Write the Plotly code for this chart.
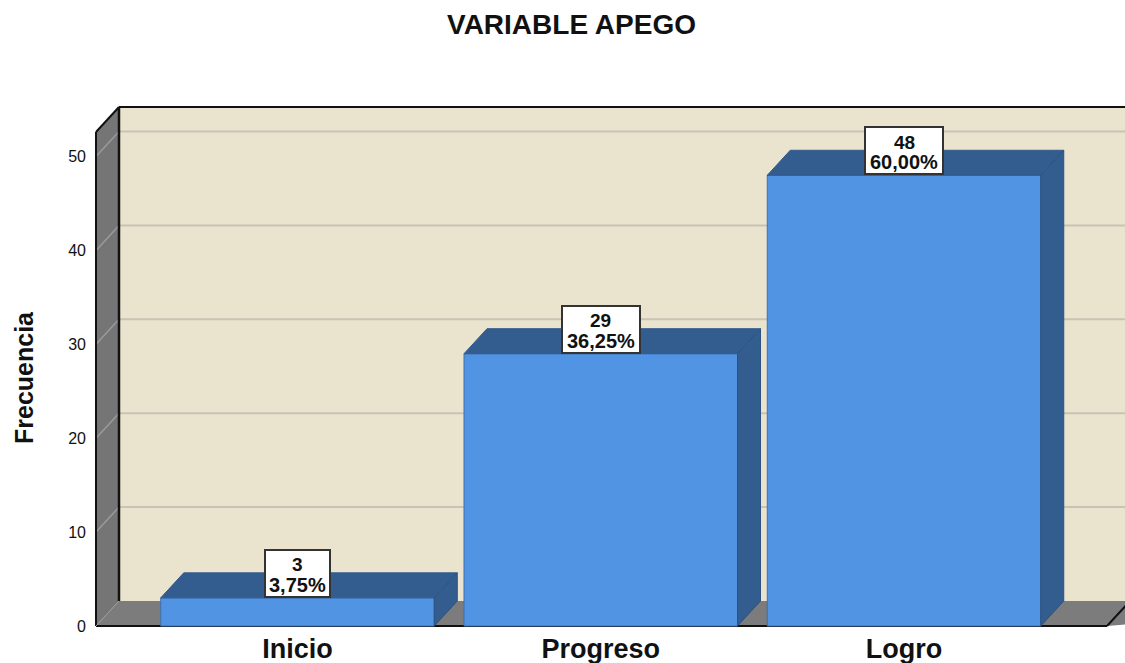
import plotly.graph_objects as go

categories = ["Inicio", "Progreso", "Logro"]
counts = [3, 29, 48]
percents = ["3,75%", "36,25%", "60,00%"]
y_ticks = [0, 10, 20, 30, 40, 50]

FONT = "Liberation Sans"
FRONT, DARK, DARK_EDGE = "#5294E4", "#335C8F", "#2C5282"
WALL, SIDE, FLOOR = "#EAE4CF", "#757575", "#7C7C7C"
GRID, SIDE_GRID = "#C8C3B5", "#9A9A9A"
EDGE = "#111111"

# pixel scale of the plot: one category = 303.25 px, ten units = 93.9 px
dx, dy = 23 / 303.25, 25 / 9.39
w = 273.5 / 303.25
x_lo, x_hi = -(297.5 - 90) / 303.25, (1125 - 297.5) / 303.25
y_lo, y_hi = -4 / 9.39, (626 - 104) / 9.39
x_left = -(297.5 - 96) / 303.25
x_right = (1107 - 297.5) / 303.25
y_wall = (626 - 107) / 9.39
xpos = list(range(len(categories)))


def poly(xs, ys, fill, line=None, lw=0):
    path = "M" + " L".join(f"{a},{b}" for a, b in zip(xs, ys)) + " Z"
    return dict(type="path", path=path, xref="x", yref="y", layer="below",
                fillcolor=fill, line=dict(color=line or fill, width=lw))


def seg(x0, y0, x1, y1, color, width):
    return dict(type="line", x0=x0, y0=y0, x1=x1, y1=y1, xref="x", yref="y",
                layer="below", line=dict(color=color, width=width))


back_l, back_r = x_left + dx, x_hi + 1
shapes = [
    poly([back_l, back_r, back_r, back_l], [dy, dy, y_wall, y_wall], WALL),
    poly([x_left, back_l, back_r, x_right], [0, dy, dy, 0], FLOOR),
    poly([x_left, back_l, back_l, x_left], [0, dy, y_wall, y_wall - dy], SIDE),
]
for t in y_ticks[1:]:
    shapes.append(seg(back_l, t + dy, back_r, t + dy, GRID, 2))
    shapes.append(seg(x_left, t, back_l, t + dy, SIDE_GRID, 1.5))
shapes += [
    seg(back_l, y_wall, back_r, y_wall, EDGE, 2),
    seg(back_l, dy, back_l, y_wall, EDGE, 2.5),
    seg(x_left, 0, x_left, y_wall - dy, EDGE, 2),
    seg(x_left, y_wall - dy, back_l, y_wall, EDGE, 2),
    seg(x_left, 0, x_right, 0, EDGE, 2),
    seg(x_right, 0, x_right + dx, dy, EDGE, 2),
    seg(x_left, 0, back_l, dy, SIDE_GRID, 1),
]

fig = go.Figure()
fig.add_trace(go.Bar(x=xpos, y=counts, width=w, marker=dict(color=FRONT, line=dict(color="#3C6FAE", width=1)),
                     showlegend=False, hoverinfo="skip"))
for c, v in zip(xpos, counts):
    l, r = c - w / 2, c + w / 2
    fig.add_trace(go.Scatter(x=[l, l + dx, r + dx, r, l], y=[v, v + dy, v + dy, v, v], mode="lines",
                             fill="toself", fillcolor=DARK, line=dict(color=DARK, width=1),
                             showlegend=False, hoverinfo="skip"))
    fig.add_trace(go.Scatter(x=[r, r + dx, r + dx, r, r], y=[0, dy, v + dy, v, 0], mode="lines",
                             fill="toself", fillcolor=DARK, line=dict(color=DARK_EDGE, width=1),
                             showlegend=False, hoverinfo="skip"))

annotations = []
for c, n, p in zip(xpos, counts, percents):
    box_w = 13 * len(p) - 2
    annotations.append(dict(x=c, y=n, xref="x", yref="y", yanchor="bottom", showarrow=False, text=" ",
                            width=box_w, height=45, bgcolor="white", bordercolor="#333333", borderwidth=2,
                            borderpad=0, font=dict(size=10), yshift=0))
    annotations.append(dict(x=c, y=n, xref="x", yref="y", yanchor="middle", showarrow=False, text=f"<b>{n}</b>",
                            yshift=33, font=dict(family=FONT, size=19, color="#111111")))
    annotations.append(dict(x=c, y=n, xref="x", yref="y", yanchor="middle", showarrow=False, text=f"<b>{p}</b>",
                            yshift=13, font=dict(family=FONT, size=20, color="#111111")))
# axis title placed by paper coordinates
plot_w, plot_h = 1125 - 90, 663 - 104 - 33
annotations.append(dict(x=(24 - 90) / plot_w, y=(663 - 33 - 378) / plot_h, xref="paper", yref="paper",
                        xanchor="center", yanchor="middle", showarrow=False, textangle=-90,
                        text="<b>Frecuencia</b>", font=dict(family=FONT, size=25, color="#111111")))

fig.update_layout(
    width=1125, height=663, autosize=False,
    margin=dict(l=90, r=0, t=104, b=33, pad=0),
    paper_bgcolor="white", plot_bgcolor="rgba(0,0,0,0)",
    title=dict(text="<b>VARIABLE APEGO</b>", x=0.508, xanchor="center", y=1 - 24 / 663, yanchor="middle",
               font=dict(family=FONT, size=28, color="#111111")),
    xaxis=dict(range=[x_lo, x_hi], tickvals=xpos, ticktext=[f"<b>{c}</b>" for c in categories], automargin=False,
               showgrid=False, zeroline=False, showline=False, ticks="", ticklabelstandoff=0,
               tickfont=dict(family=FONT, size=27, color="#111111")),
    yaxis=dict(range=[y_lo, y_hi], tickvals=y_ticks, showgrid=False, zeroline=False, showline=False, automargin=False,
               ticks="", ticklabelstandoff=3, tickfont=dict(family=FONT, size=16, color="#111111")),
    shapes=shapes, annotations=annotations,
)
fig.write_html("out.html", config={"displayModeBar": False},
               post_script="document.body.style.margin='0';document.body.style.overflow='hidden';")
